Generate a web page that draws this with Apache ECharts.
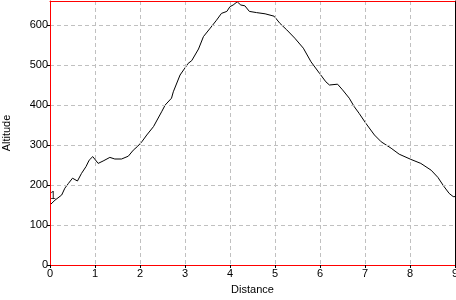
<!DOCTYPE html>
<html>
<head>
<meta charset="utf-8">
<script src="https://cdn.jsdelivr.net/npm/echarts@6/dist/echarts.min.js"></script>
<style>
html,body{margin:0;padding:0;background:#fff;}
#c{width:456px;height:300px;}
</style>
</head>
<body>
<div id="c"></div>
<script>
var distance = [0, 0.11, 0.26, 0.33, 0.41, 0.5, 0.61, 0.70, 0.80, 0.87, 0.95, 1.07, 1.18, 1.33, 1.44, 1.59, 1.74, 1.85, 1.95, 2.04, 2.15, 2.30, 2.48, 2.56, 2.70, 2.74, 2.89, 2.93, 3.07, 3.15, 3.30, 3.41, 3.56, 3.70, 3.81, 3.93, 4.0, 4.07, 4.16, 4.24, 4.33, 4.43, 4.59, 4.78, 4.98, 5.11, 5.26, 5.44, 5.63, 5.80, 5.99, 6.13, 6.21, 6.39, 6.50, 6.65, 6.76, 6.87, 7.02, 7.21, 7.36, 7.58, 7.76, 8.02, 8.24, 8.47, 8.62, 8.75, 8.87, 8.96, 9.0];
var altitude = [150, 162, 175, 192, 204, 217, 210, 229, 246, 262, 271, 254, 260, 269, 265, 265, 272, 287, 297, 308, 325, 346, 383, 400, 417, 433, 475, 479, 504, 511, 540, 571, 592, 612, 629, 634, 646, 650, 658, 650, 648, 634, 631, 628, 622, 604, 588, 567, 542, 508, 479, 458, 450, 452, 438, 417, 396, 379, 354, 325, 308, 292, 277, 264, 254, 237, 219, 197, 179, 171, 171];
var xTicks = [0,1,2,3,4,5,6,7,8,9];
var yTicks = [0,100,200,300,400,500,600];
var pointLabel = '1';

var pts = distance.map(function(d,i){return [d, altitude[i]];});
var font = 'Liberation Sans';
var red = '#ff0000';
var chart = echarts.init(document.getElementById('c'));
chart.setOption({
  animation:false,
  backgroundColor:'#fff',
  grid:{left:50,right:1,top:1,bottom:35,containLabel:false,outerBoundsMode:'none'},
  xAxis:[{
    type:'value', min:0, max:9, interval:1,
    name:'Distance', nameLocation:'middle', nameGap:19,
    nameTextStyle:{color:'#000',fontSize:11,fontFamily:font},
    axisLine:{show:true,onZero:false,lineStyle:{color:red,width:1}},
    axisTick:{show:true,length:3,lineStyle:{color:'#000'}},
    axisLabel:{color:'#000',fontSize:11,fontFamily:font,margin:3,
      formatter:function(v){return xTicks.indexOf(v)>=0?String(v):'';}},
    splitLine:{show:true,showMinLine:false,showMaxLine:false,lineStyle:{color:'#c0c0c0',type:[4,3]}},
    z:5
  },{
    type:'value', position:'top', min:0, max:9,
    axisLine:{show:true,onZero:false,lineStyle:{color:red,width:1}},
    axisTick:{show:false}, axisLabel:{show:false}, splitLine:{show:false},
    z:5
  }],
  yAxis:[{
    type:'value', min:0, max:660, interval:100,
    name:'Altitude', nameLocation:'middle', nameGap:38, nameRotate:90,
    nameTextStyle:{color:'#000',fontSize:11,fontFamily:font},
    axisLine:{show:true,onZero:false,lineStyle:{color:red,width:1}},
    axisTick:{show:true,length:3,lineStyle:{color:'#000'}},
    axisLabel:{color:'#000',fontSize:11,fontFamily:font,margin:2,showMaxLabel:false,
      formatter:function(v){return yTicks.indexOf(v)>=0?String(v):'';}},
    splitLine:{show:true,showMinLine:false,showMaxLine:false,lineStyle:{color:'#c0c0c0',type:[4,3]}},
    z:5
  },{
    type:'value', position:'right', min:0, max:660,
    axisLine:{show:true,onZero:false,lineStyle:{color:'#000',width:1}},
    axisTick:{show:false}, axisLabel:{show:false}, splitLine:{show:false},
    z:5
  }],
  series:[{
    type:'line', data:pts, showSymbol:false, symbol:'none',
    lineStyle:{color:'#000',width:1},
    markPoint:{
      symbol:'rect', symbolSize:0, silent:true,
      label:{show:true,formatter:pointLabel,color:'#000',fontSize:10,fontFamily:font,position:'inside',offset:[3,-9]},
      data:[{coord:[distance[0],altitude[0]]}]
    }
  }]
});
</script>
</body>
</html>
